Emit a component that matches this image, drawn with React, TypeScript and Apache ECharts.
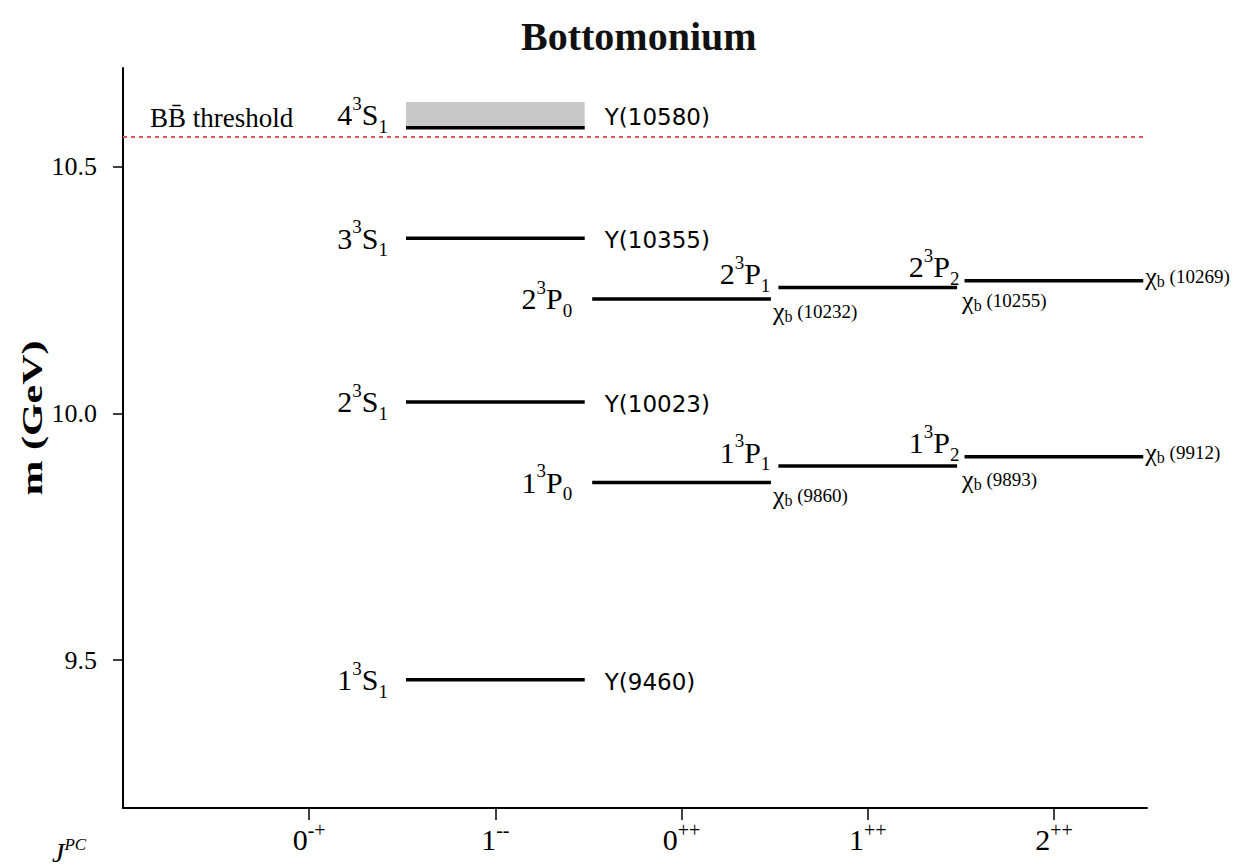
import React, { useEffect, useRef } from "react";
import * as echarts from "echarts";

// ---- data ----
const jpcTicks = [1, 2, 3, 4, 5];
const jpcBase = ["0", "1", "0", "1", "2"];
const jpcSup = ["-+", "--", "++", "++", "++"];
const massTicks = [9.5, 10.0, 10.5];

const levelJPC = [2, 2, 2, 2, 3, 4, 5, 3, 4, 5];
const levelMass = [9.46, 10.023, 10.355, 10.579, 9.86, 9.893, 9.912, 10.232, 10.255, 10.269];
const levelN = ["1", "2", "3", "4", "1", "1", "1", "2", "2", "2"];
const levelWave = ["S", "S", "S", "S", "P", "P", "P", "P", "P", "P"];
const levelJ = ["1", "1", "1", "1", "0", "1", "2", "0", "1", "2"];
const levelMeV = ["9460", "10023", "10355", "10580", "9860", "9893", "9912", "10232", "10255", "10269"];

const bbThreshold = 10.558;
const upsilon4SBand = [10.579, 10.631];

const HALF = 0.48;
const SERIF = "Liberation Serif";

const levelRich = {
  b: { fontSize: 30, fontFamily: SERIF, lineHeight: 42, fill: "#000" },
  sup: { fontSize: 19, fontFamily: SERIF, lineHeight: 19, verticalAlign: "top", fill: "#000" },
  sub: { fontSize: 19, fontFamily: SERIF, lineHeight: 19, verticalAlign: "bottom", fill: "#000" },
};
const chiRich = {
  chi: { fontSize: 26, fontFamily: SERIF, lineHeight: 26, fill: "#000" },
  cb: { fontSize: 16, fontFamily: SERIF, lineHeight: 16, verticalAlign: "bottom", fill: "#000" },
  num: { fontSize: 19, fontFamily: SERIF, lineHeight: 24, fill: "#000" },
};

function txt(x: number, y: number, text: string, rich: any, align: string, va: string) {
  return {
    type: "text",
    x,
    y,
    style: { text, rich, align, verticalAlign: va, fill: "#000", fontFamily: SERIF, fontSize: 20 },
  };
}

export default function App() {
  const ref = useRef<HTMLDivElement>(null);
  useEffect(() => {
    document.body.style.margin = "0";
    const chart = echarts.init(ref.current!, null, { renderer: "svg" });
    const option: any = {
      animation: false,
      backgroundColor: "#fff",
      title: {
        text: "Bottomonium",
        left: 516,
        top: 11,
        textStyle: { fontFamily: SERIF, fontWeight: "bold", fontSize: 40, color: "#111" },
      },
      grid: { left: 123, right: 94, top: 68, bottom: 60 },
      xAxis: {
        type: "value",
        min: 0,
        max: 5.5,
        axisLine: { show: true, onZero: false, lineStyle: { color: "#000", width: 2 } },
        axisTick: { show: true, length: 12, customValues: jpcTicks, lineStyle: { color: "#000", width: 1.5 } },
        splitLine: { show: false },
        axisLabel: {
          customValues: jpcTicks,
          margin: 12,
          formatter: (v: number) => {
            const k = Math.round(v) - 1;
            return `{d|${jpcBase[k]}}{s|${jpcSup[k]}}`;
          },
          rich: {
            d: { fontSize: 30, fontFamily: SERIF, color: "#000", lineHeight: 38 },
            s: { fontSize: 20, fontFamily: SERIF, color: "#000", lineHeight: 20, verticalAlign: "top" },
          },
        },
      },
      yAxis: {
        type: "value",
        min: 9.2,
        max: 10.7,
        axisLine: { show: true, onZero: false, lineStyle: { color: "#000", width: 2 } },
        axisTick: { show: true, length: 10, customValues: massTicks, lineStyle: { color: "#000", width: 1.5 } },
        splitLine: { show: false },
        axisLabel: {
          customValues: massTicks,
          margin: 26,
          formatter: (v: number) => Number(v).toFixed(1),
          fontFamily: SERIF,
          fontSize: 26,
          color: "#000",
        },
      },
      graphic: [
        {
          type: "text",
          x: 32,
          y: 418,
          rotation: Math.PI / 2,
          scaleX: 1.4,
          style: {
            text: "m (GeV)",
            align: "center",
            verticalAlign: "middle",
            fontFamily: SERIF,
            fontWeight: "bold",
            fontSize: 30,
            fill: "#000",
          },
        },
        {
          type: "text",
          left: 52,
          top: 836,
          style: {
            text: "{j|J}{pc|PC}",
            rich: {
              j: { fontSize: 28, fontFamily: SERIF, fontStyle: "italic", lineHeight: 32, fill: "#000" },
              pc: { fontSize: 17, fontFamily: SERIF, fontStyle: "italic", lineHeight: 17, verticalAlign: "top", fill: "#000" },
            },
          },
        },
      ],
      series: [
        {
          type: "custom",
          name: "band",
          silent: true,
          data: [[2, upsilon4SBand[0], upsilon4SBand[1]]],
          encode: { x: 0, y: [1, 2] },
          renderItem: (params: any, api: any) => {
            const xv = api.value(0);
            const p1 = api.coord([xv - HALF, api.value(2)]);
            const p2 = api.coord([xv + HALF, api.value(1)]);
            return {
              type: "rect",
              shape: { x: p1[0], y: p1[1], width: p2[0] - p1[0], height: p2[1] - p1[1] },
              style: { fill: "#c8c8c8" },
            };
          },
          markLine: {
            silent: true,
            symbol: ["none", "none"],
            data: [{ yAxis: bbThreshold }],
            lineStyle: { color: "#d9585a", type: [4, 4], width: 1.8 },
            label: {
              show: true,
              position: "insideStartTop",
              distance: [27, 6],
              formatter: "BB\u0304 threshold",
              fontFamily: SERIF,
              fontSize: 27,
              color: "#000",
            },
          },
        },
        {
          type: "custom",
          name: "levels",
          silent: true,
          data: levelMass.map((m, i) => [levelJPC[i], m]),
          encode: { x: 0, y: 1 },
          renderItem: (params: any, api: any) => {
            const i = params.dataIndex;
            const xv = api.value(0);
            const m = api.value(1);
            const a = api.coord([xv - HALF, m]);
            const b = api.coord([xv + HALF, m]);
            const y = a[1];
            const children: any[] = [
              { type: "line", shape: { x1: a[0], y1: y, x2: b[0], y2: y }, style: { stroke: "#000", lineWidth: 3.5 } },
            ];
            const spec = `{b|${levelN[i]}}{sup|3}{b|${levelWave[i]}}{sub|${levelJ[i]}}`;
            const chi = `{chi|χ}{cb|b}{num| (${levelMeV[i]})}`;
            if (levelWave[i] === "S") {
              let yc = y;
              if (m === upsilon4SBand[0]) {
                yc = (api.coord([xv, upsilon4SBand[0]])[1] + api.coord([xv, upsilon4SBand[1]])[1]) / 2;
              }
              children.push(txt(a[0] - 18, yc, spec, levelRich, "right", "middle"));
              children.push({
                type: "text",
                x: b[0] + 20,
                y: yc + 2,
                style: {
                  text: `Υ(${levelMeV[i]})`,
                  align: "left",
                  verticalAlign: "middle",
                  fill: "#000",
                  fontFamily: "DejaVu Sans",
                  fontSize: 23,
                },
              });
            } else if (levelJ[i] === "0") {
              children.push(txt(a[0] - 20, y, spec, levelRich, "right", "middle"));
              children.push(txt(b[0] + 2, y, chi, chiRich, "left", "top"));
            } else if (levelJ[i] === "1") {
              children.push(txt(a[0] - 8, y + 7, spec, levelRich, "right", "bottom"));
              children.push(txt(b[0] + 5, y, chi, chiRich, "left", "top"));
            } else {
              children.push(txt(a[0] - 5, y + 7, spec, levelRich, "right", "bottom"));
              children.push(txt(b[0] + 2, y - 4, chi, chiRich, "left", "middle"));
            }
            return { type: "group", children };
          },
        },
      ],
    };
    chart.setOption(option);
    return () => chart.dispose();
  }, []);
  return <div ref={ref} style={{ width: 1241, height: 868, position: "absolute", left: 0, top: 0 }} />;
}
